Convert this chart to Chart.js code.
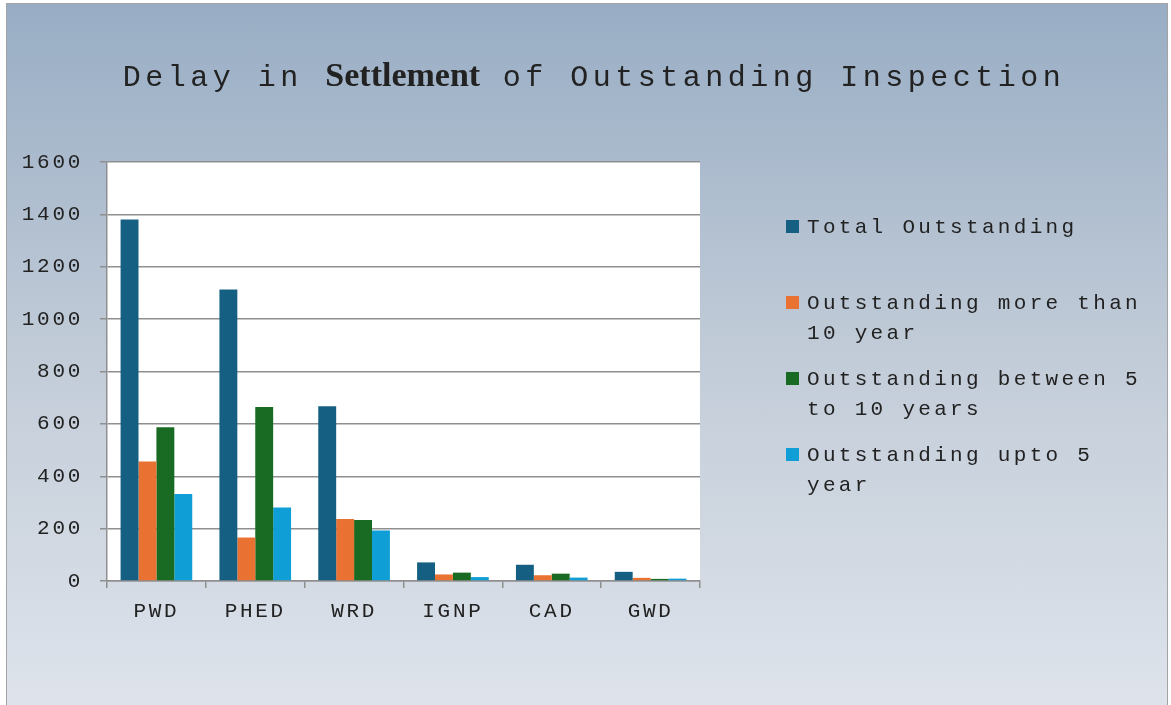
<!DOCTYPE html>
<html>
<head>
<meta charset="utf-8">
<script src="https://cdn.jsdelivr.net/npm/chart.js@4.4.1/dist/chart.umd.min.js"></script>
<style>
  html, body { margin: 0; padding: 0; background: #fff; }
  body { width: 1171px; height: 705px; position: relative; overflow: hidden; }
  .frame {
    position: absolute; left: 6px; top: 3px; width: 1160px; height: 710px;
    border: 1px solid #a3a3a3;
    background: linear-gradient(to bottom, #98adc4 0%, #c2ccd8 50%, #dfe4ec 100%);
  }
  #chart { position: absolute; left: 0; top: 0; }
</style>
</head>
<body>
<div class="frame"></div>
<canvas id="chart" width="1171" height="705"></canvas>
<script>
// Departments
const categories = ['PWD', 'PHED', 'WRD', 'IGNP', 'CAD', 'GWD'];

// Series values
const totalOutstanding = [1380, 1113, 667, 71, 62, 35];
const moreThan10 = [456, 166, 237, 25, 22, 12];
const between5and10 = [587, 664, 233, 32, 28, 8];
const upto5 = [332, 281, 193, 15, 13, 9];

// y axis ticks
const yTicks = [0, 200, 400, 600, 800, 1000, 1200, 1400, 1600];

const seriesLabels = [
  ['Total Outstanding'],
  ['Outstanding more than', '10 year'],
  ['Outstanding between 5', 'to 10 years'],
  ['Outstanding upto 5', 'year']
];
const seriesColors = ['#156082', '#e97132', '#196b24', '#0f9ed5'];

const MONO = '"Liberation Mono", "Courier New", monospace';

// spacing so Liberation Mono gets the wide Courier look
const spacingPlugin = {
  id: 'spacing',
  beforeDraw(chart) { chart.ctx.letterSpacing = '2.7px'; }
};

const titlePlugin = {
  id: 'mixedTitle',
  afterDraw(chart) {
    const ctx = chart.ctx;
    const parts = [
      { text: 'Delay in ', font: '30px ' + MONO, ls: '4.5px' },
      { text: 'Settlement', font: 'bold 34px "Liberation Serif", "Times New Roman", serif', ls: '0px' },
      { text: ' of Outstanding Inspection', font: '30px ' + MONO, ls: '4.5px' }
    ];
    ctx.save();
    ctx.fillStyle = '#222';
    ctx.textBaseline = 'alphabetic';
    ctx.textAlign = 'left';
    let total = 0;
    parts.forEach(p => {
      ctx.font = p.font; ctx.letterSpacing = p.ls;
      p.w = ctx.measureText(p.text).width;
      total += p.w;
    });
    let x = 594 - total / 2;
    parts.forEach(p => {
      ctx.font = p.font; ctx.letterSpacing = p.ls;
      ctx.fillText(p.text, x, 86);
      x += p.w;
    });
    ctx.restore();
  }
};

const legendPlugin = {
  id: 'sideLegend',
  afterDraw(chart) {
    const ctx = chart.ctx;
    ctx.save();
    ctx.font = '21px ' + MONO;
    ctx.letterSpacing = '3.3px';
    ctx.textBaseline = 'alphabetic';
    ctx.textAlign = 'left';
    chart.data.datasets.forEach((ds, i) => {
      const base = 233 + i * 76;
      ctx.fillStyle = ds.backgroundColor;
      ctx.fillRect(786, base - 13, 13, 13);
      ctx.fillStyle = '#222';
      seriesLabels[i].forEach((line, j) => ctx.fillText(line, 807, base + j * 30));
    });
    ctx.restore();
  }
};

const chartAreaBg = {
  id: 'chartAreaBg',
  beforeDraw(chart) {
    const { ctx, chartArea: a } = chart;
    ctx.save();
    ctx.fillStyle = '#ffffff';
    ctx.fillRect(a.left, a.top, a.right - a.left, a.bottom - a.top);
    ctx.restore();
  }
};

const seriesData = [totalOutstanding, moreThan10, between5and10, upto5];

new Chart(document.getElementById('chart').getContext('2d'), {
  type: 'bar',
  data: {
    labels: categories,
    datasets: seriesData.map((d, i) => ({
      label: seriesLabels[i].join(' '),
      data: d,
      backgroundColor: seriesColors[i],
      borderWidth: 0,
      barPercentage: 1,
      categoryPercentage: 0.725
    }))
  },
  options: {
    responsive: false,
    animation: false,
    devicePixelRatio: 1,
    layout: { padding: { left: 0, right: 471, top: 162, bottom: 0 } },
    plugins: {
      legend: { display: false },
      title: { display: false },
      tooltip: { enabled: false }
    },
    scales: {
      y: {
        min: 0,
        max: 1600,
        afterFit(s) { s.width = 107; },
        afterBuildTicks(s) { s.ticks = yTicks.map(v => ({ value: v })); },
        ticks: {
          color: '#222',
          font: { family: MONO, size: 21 },
          padding: 17,
          callback: v => String(v)
        },
        grid: { color: '#8f8f8f', lineWidth: 1.5, tickLength: 7 },
        border: { color: '#8f8f8f', width: 1.5 }
      },
      x: {
        afterFit(s) { s.height = 124; },
        ticks: { color: '#222', font: { family: MONO, size: 21 }, padding: 11, maxRotation: 0 },
        grid: { drawOnChartArea: false, color: '#8f8f8f', lineWidth: 1.5, tickLength: 7 },
        border: { color: '#8f8f8f', width: 1.5 }
      }
    }
  },
  plugins: [chartAreaBg, spacingPlugin, titlePlugin, legendPlugin]
});
</script>
</body>
</html>
